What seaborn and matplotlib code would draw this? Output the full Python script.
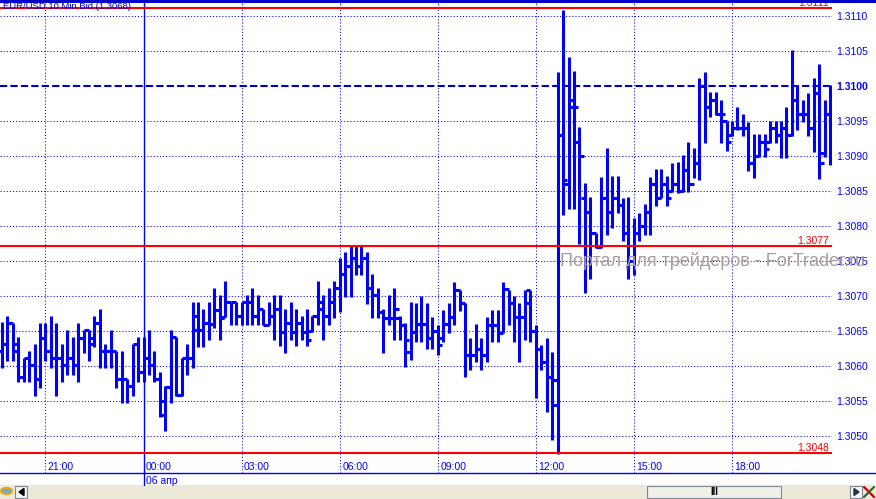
import numpy as np
import pandas as pd
import seaborn as sns
import matplotlib.pyplot as plt
import matplotlib.transforms as mtransforms
from matplotlib.lines import Line2D
from matplotlib.patches import Rectangle, Circle, Polygon

# 10-минутные бары EUR/USD, цены в пунктах сверх 1.3000
# индекс бара: 0 = 06 апр 00:00, шаг 10 минут
bar_idx = list(range(-26, 127))

highs = [
    66.3, 67.1, 66.1, 64.1, 61.1, 62.1, 63.2, 66.1, 66.1, 67.1,
    66.1, 63.2, 65.1, 64.1, 66.1, 65.1, 65.1, 67.1, 68.2, 63.2,
    65.1, 62.1, 62.1, 58.2, 63.2, 64.1, 64.1, 65.1, 62.1, 59.1,
    57.2, 65.1, 64.1, 61.1, 63.2, 69.1, 69.1, 68.2, 69.2, 71.2,
    70.2, 72.1, 69.2, 69.2, 69.2, 70.2, 71.2, 70.2, 68.1, 69.2,
    70.2, 70.2, 68.1, 69.2, 68.1, 67.1, 68.1, 67.1, 72.1, 70.2,
    71.2, 72.1, 75.4, 76.3, 77.3, 77.3, 77.3, 76.3, 73.2, 71.2,
    68.1, 70.2, 71.2, 67.1, 66.1, 69.2, 69.0, 70.0, 69.0, 67.0,
    65.9, 68.0, 69.0, 72.0, 70.9, 69.0, 64.0, 66.0, 64.0, 67.0,
    68.0, 68.0, 72.0, 70.9, 70.0, 69.0, 70.9, 70.9, 65.9, 63.0,
    64.0, 62.0, 102.0, 110.9, 104.1, 102.2, 94.1, 86.1, 84.2, 79.0,
    87.0, 91.1, 87.1, 87.1, 84.0, 84.2, 81.1, 81.9, 83.2, 87.0,
    88.1, 88.1, 87.1, 89.0, 89.2, 90.1, 92.0, 91.1, 101.1, 102.0,
    99.2, 99.2, 98.0, 95.0, 95.0, 97.0, 96.0, 94.9, 93.1, 93.1,
    93.1, 95.0, 95.0, 95.0, 97.0, 105.1, 100.1, 98.0, 99.0, 101.1,
    103.1, 98.0, 100.1,
]
lows = [
    59.7, 60.7, 60.7, 57.7, 57.7, 57.7, 55.7, 56.8, 60.7, 59.7,
    55.7, 57.7, 58.7, 58.7, 57.7, 61.8, 60.7, 62.7, 59.7, 59.7,
    59.7, 56.8, 54.7, 54.7, 55.7, 57.7, 57.7, 58.7, 57.7, 52.7,
    50.7, 54.7, 55.7, 55.7, 58.7, 59.7, 62.7, 62.7, 63.7, 65.4,
    63.7, 67.0, 65.8, 65.8, 65.8, 65.8, 65.8, 65.8, 65.8, 65.8,
    63.7, 62.8, 61.8, 63.7, 62.8, 63.7, 62.8, 64.8, 65.8, 63.7,
    65.8, 66.8, 67.7, 69.8, 69.8, 73.0, 73.0, 68.8, 66.8, 66.8,
    61.8, 65.8, 63.7, 63.7, 59.9, 60.9, 63.5, 63.5, 62.5, 62.5,
    61.6, 63.5, 64.7, 65.9, 67.8, 58.5, 59.5, 60.6, 59.5, 60.6,
    63.5, 63.5, 64.7, 65.9, 63.5, 60.6, 63.7, 63.5, 55.4, 59.5,
    53.5, 49.4, 47.5, 81.6, 82.5, 82.5, 77.5, 70.5, 72.5, 76.8,
    76.8, 78.7, 79.7, 81.8, 77.8, 72.5, 73.0, 77.8, 78.7, 78.7,
    82.8, 84.0, 82.8, 84.9, 84.7, 84.9, 84.9, 86.8, 86.6, 91.8,
    95.6, 95.9, 91.8, 90.7, 92.8, 93.7, 92.8, 87.8, 86.8, 89.8,
    89.8, 91.8, 91.8, 89.7, 89.7, 92.8, 93.7, 94.9, 92.8, 90.6,
    86.7, 89.9, 88.7,
]
opens = [
    62.1, 63.2, 66.1, 62.1, 58.5, 61.1, 60.1, 58.2, 64.0, 62.1,
    61.1, 61.1, 60.1, 61.1, 60.1, 64.0, 65.1, 64.0, 66.1, 62.1,
    62.1, 62.1, 58.2, 58.2, 57.2, 63.2, 59.1, 61.1, 60.1, 58.2,
    53.0, 57.0, 64.1, 55.9, 61.1, 61.1, 67.1, 65.1, 66.1, 66.0,
    68.0, 67.0, 69.2, 69.2, 67.1, 69.2, 69.2, 67.1, 68.1, 65.8,
    67.1, 68.1, 64.8, 66.1, 64.8, 66.1, 64.8, 65.0, 67.1, 69.2,
    67.1, 69.2, 71.2, 73.2, 74.3, 75.4, 74.3, 75.4, 71.2, 70.2,
    67.7, 66.8, 66.8, 66.8, 65.8, 62.0, 64.8, 66.0, 66.0, 64.0,
    65.0, 64.0, 66.0, 67.0, 70.9, 69.0, 61.6, 61.6, 62.5, 61.6,
    65.9, 65.9, 64.7, 71.0, 69.0, 67.0, 67.0, 70.9, 65.0, 62.5,
    60.6, 58.5, 58.0, 93.0, 86.0, 98.0, 92.0, 84.0, 82.0, 79.0,
    77.0, 84.0, 82.0, 84.0, 83.0, 79.0, 75.0, 79.0, 80.0, 82.0,
    86.0, 84.0, 86.0, 85.0, 86.0, 85.0, 88.0, 86.0, 89.0, 100.0,
    97.0, 98.0, 96.0, 95.0, 93.0, 94.0, 94.0, 94.0, 89.0, 90.0,
    92.0, 92.0, 94.0, 93.0, 94.0, 93.0, 98.0, 96.0, 96.0, 94.0,
    99.0, 90.5, 96.0,
]
closes = [
    63.2, 66.1, 63.2, 58.5, 61.1, 60.1, 58.2, 64.0, 62.1, 61.1,
    61.1, 60.1, 61.1, 60.1, 64.0, 65.1, 63.2, 66.1, 62.1, 62.1,
    62.1, 58.2, 58.2, 57.2, 63.2, 59.1, 61.1, 60.1, 58.2, 55.0,
    57.0, 64.1, 55.9, 61.1, 61.1, 65.1, 65.1, 66.1, 66.0, 68.0,
    66.8, 69.2, 69.2, 67.1, 69.2, 69.2, 67.1, 68.1, 65.8, 67.1,
    68.1, 64.8, 66.1, 64.8, 66.1, 64.8, 63.7, 67.1, 68.1, 67.1,
    69.2, 71.2, 73.2, 74.3, 75.4, 74.3, 75.4, 71.2, 70.2, 67.7,
    66.8, 66.8, 68.1, 65.8, 63.7, 64.8, 66.0, 66.0, 64.0, 65.0,
    63.0, 66.0, 67.0, 70.9, 69.0, 61.6, 61.6, 62.5, 61.6, 65.9,
    65.9, 64.7, 71.0, 69.0, 67.0, 67.0, 69.0, 65.0, 62.5, 60.6,
    58.5, 54.5, 93.0, 86.6, 97.0, 97.0, 90.0, 82.0, 79.0, 77.0,
    84.0, 82.0, 84.0, 83.0, 79.0, 75.0, 79.0, 80.0, 82.0, 86.0,
    84.0, 86.0, 84.0, 86.0, 85.0, 88.0, 86.0, 89.0, 100.0, 97.0,
    98.0, 96.0, 96.0, 92.0, 94.0, 94.0, 94.0, 89.0, 90.0, 92.0,
    91.0, 94.0, 93.0, 94.0, 93.0, 98.0, 96.0, 96.0, 94.0, 99.0,
    89.0, 96.0, 93.0,
]

price_ticks = [1.3050, 1.3055, 1.3060, 1.3065, 1.3070, 1.3075, 1.3080,
               1.3085, 1.3090, 1.3095, 1.3100, 1.3105, 1.3110]
time_labels = ["21:00", "00:00", "03:00", "06:00", "09:00", "12:00", "15:00", "18:00"]
time_bars = [-18, 0, 18, 36, 54, 72, 90, 108]
red_levels = [1.31111, 1.30771, 1.304757]
red_texts = ["1.3111", "1.3077", "1.3048"]
current_price = 1.3100

W, H = 876, 499
BLUE = "#0000ff"
RED = "#ff0000"
PX = 5.449  # пикселей на бар


def fx(px):
    return px / W


def fy(py):
    return 1 - py / H


sns.set_style("white")
plt.rcParams["font.family"] = ["Liberation Sans", "DejaVu Sans"]

fig = plt.figure(figsize=(W / 100, H / 100), dpi=100)
ax = fig.add_axes([0, fy(473), fx(832), (473 - 3) / H])
ax.set_xlim(-143.5 / PX, (832 - 143.5) / PX)
ax.set_ylim(1.3 + (100 - (473 - 86) / 7) / 1e4, 1.3 + (100 - (3 - 86) / 7) / 1e4)
for s in ax.spines.values():
    s.set_visible(False)

# сетка
dot = (0, (1, 2))
for p in price_ticks:
    if p != current_price:
        ax.axhline(p, color=BLUE, lw=0.75, ls=dot, zorder=1)
for k in time_bars + [126.35]:
    if k != 0:
        ax.axvline(k, color=BLUE, lw=0.75, ls=dot, zorder=1)
ax.axvline(0, color=BLUE, lw=1.0, zorder=1)
ax.axhline(current_price, color="#0000cc", lw=1.5, ls=(0, (3.5, 1.5)), zorder=1)

# бары: high-low через seaborn
hl = pd.DataFrame({
    "bar": bar_idx + bar_idx,
    "price": [1.3 + v / 1e4 for v in lows] + [1.3 + v / 1e4 for v in highs],
})
sns.lineplot(data=hl, x="bar", y="price", units="bar", estimator=None, sort=False,
             color=BLUE, lw=2.2, legend=False, ax=ax, solid_capstyle="butt", zorder=3)
k_arr = np.array(bar_idx)
o_arr = 1.3 + np.array(opens) / 1e4
c_arr = 1.3 + np.array(closes) / 1e4
ax.hlines(o_arr, k_arr - 0.8, k_arr, color=BLUE, lw=2.2, zorder=3)
ax.hlines(c_arr, k_arr, k_arr + 0.8, color=BLUE, lw=2.2, zorder=3)

# красные уровни
for lvl, txt in zip(red_levels, red_texts):
    ax.axhline(lvl, color=RED, lw=1.5, zorder=4)
    ax.text(0.9965, lvl, txt, transform=mtransforms.blended_transform_factory(ax.transAxes, ax.transData),
            ha="right", va="bottom", color=RED, fontsize=7.5, zorder=5)

# шкала цен справа
ax.set_xticks([])
ax.yaxis.tick_right()
ax.set_yticks(price_ticks)
ax.set_yticklabels([f"{p:.4f}" for p in price_ticks])
ax.tick_params(axis="y", length=0, pad=2.9, labelsize=7.5, labelcolor=BLUE)
for lbl in ax.get_yticklabels():
    if lbl.get_text() == "1.3100":
        lbl.set_fontweight("bold")
ax.set_xlabel("")
ax.set_ylabel("")

# подписи времени
trans = mtransforms.blended_transform_factory(ax.transData, ax.transAxes)
for k, lab in zip(time_bars, time_labels):
    ax.text(k + 2.5 / PX, (473 - 467) / 470, lab, transform=trans, ha="left", va="center",
            color=BLUE, fontsize=7.5)

fig.text(fx(3), fy(6.5), "EUR/USD 10 Min Bid (1.3068)", ha="left", va="center",
         color="#0000cc", fontsize=6.8, zorder=6)
fig.text(fx(560), fy(261), "Портал для трейдеров - ForTrader.ru", ha="left", va="center",
         color="#a89c9c", fontsize=13, zorder=10)
fig.text(fx(146), fy(481), "06 апр", ha="left", va="center", color=BLUE, fontsize=7.5)

# рамка окна
fig.add_artist(Line2D([0, 1], [fy(1), fy(1)], color="#0000c8", lw=2.2))
fig.add_artist(Line2D([0, 1], [fy(473), fy(473)], color=BLUE, lw=1.0))
fig.add_artist(Line2D([fx(143.5), fx(143.5)], [fy(473), fy(485)], color=BLUE, lw=1.0))

# полоса прокрутки
fig.add_artist(Rectangle((0, 0), 1, fy(485), color="#ece9d8", zorder=0))
fig.add_artist(Rectangle((fx(647), fy(498)), fx(781) - fx(647), fy(486) - fy(498),
                         facecolor="#f0efe8", edgecolor="#7f8a99", lw=0.8))
fig.text(fx(714), fy(492), "III", ha="center", va="center", fontsize=7, color="black",
         fontweight="bold")
for x0 in (15, 850):
    fig.add_artist(Rectangle((fx(x0), fy(498)), fx(12), fy(486) - fy(498),
                             facecolor="#f4f3ee", edgecolor="#7f8a99", lw=0.8))
fig.add_artist(Polygon([(fx(19), fy(492)), (fx(24), fy(488.5)), (fx(24), fy(495.5))],
                       color="black"))
fig.add_artist(Polygon([(fx(859), fy(492)), (fx(854), fy(488.5)), (fx(854), fy(495.5))],
                       color="#223344"))
fig.add_artist(Circle((fx(6.5), fy(491)), 5.5 / W, facecolor="#6fa8dc", edgecolor="#e6a817",
                      lw=1.5, transform=fig.transFigure))
fig.add_artist(Line2D([fx(864), fx(874)], [fy(487), fy(497)], color="#cc0000", lw=1.6))
fig.add_artist(Line2D([fx(864), fx(874)], [fy(497), fy(487)], color="#336633", lw=1.6))

fig.savefig("out.png", dpi=100)
